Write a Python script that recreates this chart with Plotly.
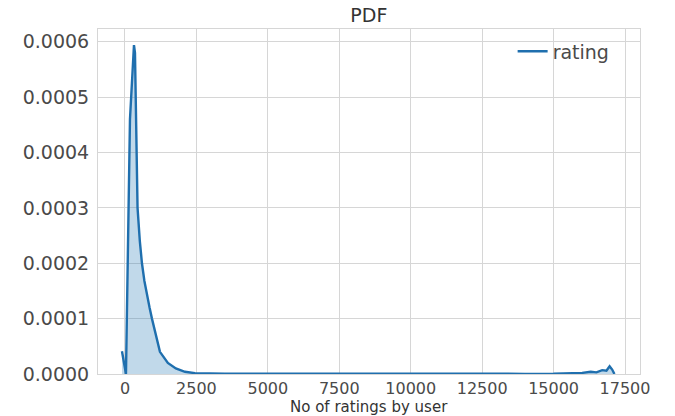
import plotly.graph_objects as go

# KDE of number of ratings per user
ratings_x = [-105, 35, 175, 315, 350, 380, 410, 440, 520, 594, 680, 770, 860,
             944, 1050, 1224, 1500, 1780, 2100, 2450, 3500, 6000, 10000, 14000,
             15000, 15500, 16000, 16300, 16500, 16700, 16850, 16960, 17050, 17130]
density_y = [0.000041, 0.0, 0.00046, 0.000594, 0.00058, 0.0005, 0.0004, 0.0003,
             0.00024, 0.0002, 0.000168, 0.000142, 0.00012, 0.0001, 0.000075,
             0.00004, 0.00002, 0.00001, 0.000004, 0.0000015, 0.0000005,
             0.0000002, 0.0000001, 0.0000003, 0.0000005, 0.000001, 0.000002,
             0.000004, 0.000003, 0.000007, 0.000006, 0.000014, 0.000008, 0.0]

x_ticks = [0, 2500, 5000, 7500, 10000, 12500, 15000, 17500]
y_ticks = [0.0, 0.0001, 0.0002, 0.0003, 0.0004, 0.0005, 0.0006]

blue = "#1f6fae"
font = "DejaVu Sans"
tick_col = "#4a4a4a"

fig = go.Figure()
# shaded area (not in legend)
fig.add_trace(go.Scatter(
    x=ratings_x, y=density_y, mode="none", showlegend=False, hoverinfo="skip",
    fill="tozeroy", fillcolor="rgba(31,119,180,0.28)",
))
# KDE line
fig.add_trace(go.Scatter(
    x=ratings_x, y=density_y, mode="lines", name="rating",
    line=dict(color=blue, width=2.4),
))

fig.update_layout(
    width=675, height=416,
    margin=dict(l=98, r=35, t=29, b=42),
    paper_bgcolor="white", plot_bgcolor="white",
    font=dict(family=font, color=tick_col, size=18),
    title=dict(text="PDF", x=0.5465, xanchor="center", y=0.963, yanchor="middle",
               font=dict(family=font, size=19, color="#333")),
    showlegend=True,
    legend=dict(x=0.765, xanchor="left", y=0.99, yanchor="top",
                bgcolor="rgba(0,0,0,0)", font=dict(family=font, size=19, color=tick_col)),
    annotations=[dict(text="No of ratings by user", xref="paper", yref="paper",
                      x=0.5, xanchor="center", y=-0.0957, yanchor="middle",
                      showarrow=False, font=dict(family=font, size=15, color="#333"))],
)
fig.update_xaxes(
    range=[-944, 18024], tickvals=x_ticks, tickformat="d", tickangle=0,
    showgrid=True, gridcolor="#d6d6d6", gridwidth=1, automargin=False,
    showline=True, linecolor="#d6d6d6", mirror=True, zeroline=False,
    tickfont=dict(family=font, size=16, color=tick_col),
)
fig.update_yaxes(
    range=[0, 0.000623], tickvals=y_ticks, tickformat=".4f",
    showgrid=True, gridcolor="#d6d6d6", gridwidth=1, automargin=False,
    showline=True, linecolor="#d6d6d6", mirror=True, zeroline=False,
    ticklabelstandoff=4,
    tickfont=dict(family=font, size=19, color=tick_col),
)

fig.write_html("out.html")
